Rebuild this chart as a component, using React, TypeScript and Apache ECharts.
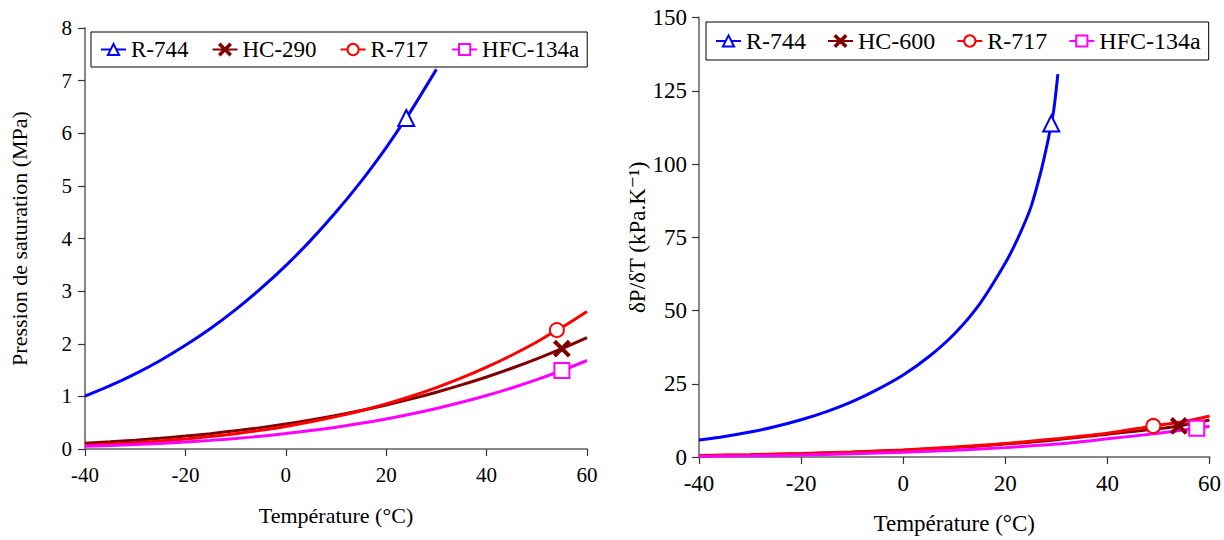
import React, { useEffect, useRef } from "react";
import * as echarts from "echarts";

// ---------- Left chart: saturation pressure (MPa) ----------
const r744TempsL = [-40, -35, -30, -25, -20, -15, -10, -5, 0, 5, 10, 15, 20, 24, 25, 30];
const r744PsatL = [1.005, 1.202, 1.428, 1.683, 1.97, 2.29, 2.649, 3.046, 3.485, 3.969, 4.502, 5.086, 5.729, 6.29, 6.434, 7.214];
const r744MarkL = 13;

const hc290Temps = [-40, -35, -30, -25, -20, -15, -10, -5, 0, 5, 10, 15, 20, 25, 30, 35, 40, 45, 50, 55, 60];
const hc290Psat = [0.111, 0.138, 0.168, 0.204, 0.245, 0.292, 0.345, 0.406, 0.474, 0.551, 0.636, 0.731, 0.836, 0.952, 1.079, 1.218, 1.369, 1.534, 1.713, 1.907, 2.116];
const hc290Mark = 19;

const r717TempsL = [-40, -35, -30, -25, -20, -15, -10, -5, 0, 5, 10, 15, 20, 25, 30, 35, 40, 45, 50, 54, 55, 60];
const r717PsatL = [0.0717, 0.0932, 0.1195, 0.1515, 0.19, 0.236, 0.291, 0.355, 0.429, 0.516, 0.615, 0.728, 0.857, 1.003, 1.167, 1.35, 1.555, 1.782, 2.033, 2.26, 2.31, 2.614];
const r717MarkL = 19;

const r134aTempsL = [-40, -35, -30, -25, -20, -15, -10, -5, 0, 5, 10, 15, 20, 25, 30, 35, 40, 45, 50, 55, 60];
const r134aPsatL = [0.0512, 0.0661, 0.0844, 0.1064, 0.1327, 0.1639, 0.2006, 0.2433, 0.2928, 0.3497, 0.4146, 0.4884, 0.5717, 0.6654, 0.7702, 0.887, 1.0166, 1.1599, 1.3179, 1.4915, 1.6818];
const r134aMarkL = 19;

// ---------- Right chart: dP/dT (kPa/K) ----------
const r744TempsR = [-40, -35, -30, -25, -20, -15, -10, -5, 0, 5, 10, 15, 20, 22.5, 25, 27, 28.3, 29, 29.5, 30.3];
const r744SlopeR = [5.8, 7.0, 8.5, 10.4, 12.7, 15.5, 18.9, 23.1, 28.0, 34.2, 42.0, 52.3, 66.2, 74.8, 85.2, 97.6, 107.5, 113.8, 118.5, 130.7];
const r744MarkR = 17;

const hc600Temps = [-40, -30, -20, -10, 0, 10, 20, 30, 40, 50, 54, 60];
const hc600Slope = [0.4, 0.7, 1.1, 1.6, 2.3, 3.2, 4.4, 5.9, 7.8, 9.6, 10.6, 12.6];
const hc600Mark = 10;

const r717TempsR = [-40, -30, -20, -10, 0, 10, 20, 30, 40, 49, 55, 60];
const r717SlopeR = [0.5, 0.8, 1.2, 1.7, 2.4, 3.4, 4.6, 6.2, 8.1, 10.6, 12.1, 14.0];
const r717MarkR = 9;

const r134aTempsR = [-40, -30, -20, -10, 0, 10, 20, 30, 40, 50, 57.5, 60];
const r134aSlopeR = [0.2, 0.4, 0.7, 1.1, 1.6, 2.3, 3.2, 4.4, 6.2, 8.1, 9.8, 10.5];
const r134aMarkR = 10;

const legendLeft = ["R-744", "HC-290", "R-717", "HFC-134a"];
const legendRight = ["R-744", "HC-600", "R-717", "HFC-134a"];

const xName = "Température (°C)";
const yNameLeft = "Pression de saturation (MPa)";
const yNameRight = "δP/δT (kPa.K⁻¹)";

const FONT = "Liberation Serif, Times New Roman, DejaVu Serif, serif";
const BLUE = "#0000FF";
const DARKRED = "#800000";
const RED = "#FF0000";
const MAGENTA = "#FF00FF";
const XSYM = "path://M0,1 L1,0 L5,4 L9,0 L10,1 L6,5 L10,9 L9,10 L5,6 L1,10 L0,9 L4,5 Z";

function buildData(xs: number[], ys: number[], mark: number, size: number) {
  return xs.map((x, i) => (i === mark ? { value: [x, ys[i]], symbolSize: size } : { value: [x, ys[i]] }));
}

function mkSeries(
  name: string,
  grid: number,
  xs: number[],
  ys: number[],
  mark: number,
  color: string,
  symbol: string,
  size: number,
  smooth: number
) {
  return {
    name,
    type: "line",
    xAxisIndex: grid,
    yAxisIndex: grid,
    data: buildData(xs, ys, mark, size),
    smooth,
    symbol,
    symbolSize: 0,
    showSymbol: true,
    lineStyle: { color, width: 3 },
    itemStyle: { color, borderColor: color, borderWidth: 2 },
    emphasis: { disabled: true },
    z: 2,
  };
}

function axisCommon() {
  return {
    axisLine: { show: true, onZero: false, lineStyle: { color: "#878787", width: 2 } },
    axisTick: { show: true, length: 7, lineStyle: { color: "#333", width: 1.2 } },
    splitLine: { show: false },
  };
}

export default function App() {
  const ref = useRef<HTMLDivElement>(null);
  useEffect(() => {
    if (!ref.current) return;
    const chart = echarts.init(ref.current, null, { renderer: "svg" });
    const option = {
      animation: false,
      backgroundColor: "#fff",
      textStyle: { fontFamily: FONT },
      grid: [
        { left: 85, top: 28, width: 502, height: 421 },
        { left: 699, top: 17.5, width: 511, height: 446 },
      ],
      legend: [
        {
          data: legendLeft,
          left: 91,
          top: 32,
          orient: "horizontal",
          padding: [6, 8, 6, 9],
          itemWidth: 25,
          itemHeight: 14,
          itemGap: 23,
          borderColor: "#000",
          borderWidth: 1,
          backgroundColor: "#fff",
          textStyle: { fontSize: 23, fontFamily: FONT, color: "#000" },
          selectedMode: false,
        },
        {
          data: legendRight,
          left: 706,
          top: 22,
          orient: "horizontal",
          padding: [7, 8, 7, 9],
          itemWidth: 25,
          itemHeight: 14,
          itemGap: 21,
          borderColor: "#000",
          borderWidth: 1,
          backgroundColor: "#fff",
          textStyle: { fontSize: 24, fontFamily: FONT, color: "#000" },
          selectedMode: false,
        },
      ],
      xAxis: [
        {
          ...axisCommon(),
          type: "value",
          gridIndex: 0,
          min: -40,
          max: 60,
          interval: 20,
          name: xName,
          nameLocation: "middle",
          nameGap: 55,
          nameTextStyle: { color: "#000", fontFamily: FONT, fontSize: 22 },
          axisLabel: { color: "#000", fontSize: 21, fontFamily: FONT, margin: 15 },
        },
        {
          ...axisCommon(),
          type: "value",
          gridIndex: 1,
          min: -40,
          max: 60,
          interval: 20,
          name: xName,
          nameLocation: "middle",
          nameGap: 55,
          nameTextStyle: { color: "#000", fontFamily: FONT, fontSize: 23 },
          axisLabel: { color: "#000", fontSize: 23, fontFamily: FONT, margin: 15 },
        },
      ],
      yAxis: [
        {
          ...axisCommon(),
          type: "value",
          gridIndex: 0,
          min: 0,
          max: 8,
          interval: 1,
          name: yNameLeft,
          nameLocation: "middle",
          nameRotate: 90,
          nameGap: 55,
          nameTextStyle: { color: "#000", fontFamily: FONT, fontSize: 22 },
          axisLabel: { color: "#000", fontSize: 21, fontFamily: FONT, margin: 13 },
        },
        {
          ...axisCommon(),
          type: "value",
          gridIndex: 1,
          min: 0,
          max: 150,
          interval: 25,
          name: yNameRight,
          nameLocation: "middle",
          nameRotate: 90,
          nameGap: 44,
          nameTextStyle: { color: "#000", fontFamily: FONT, fontSize: 23 },
          axisLabel: { color: "#000", fontSize: 23, fontFamily: FONT, margin: 12 },
        },
      ],
      series: [
        mkSeries("R-744", 0, r744TempsL, r744PsatL, r744MarkL, BLUE, "emptyTriangle", 16, 0.4),
        mkSeries("HC-290", 0, hc290Temps, hc290Psat, hc290Mark, DARKRED, XSYM, 15, 0.4),
        mkSeries("R-717", 0, r717TempsL, r717PsatL, r717MarkL, RED, "emptyCircle", 14, 0.4),
        mkSeries("HFC-134a", 0, r134aTempsL, r134aPsatL, r134aMarkL, MAGENTA, "emptyRect", 15, 0.4),
        mkSeries("R-744", 1, r744TempsR, r744SlopeR, r744MarkR, BLUE, "emptyTriangle", 16, 0.3),
        mkSeries("HC-600", 1, hc600Temps, hc600Slope, hc600Mark, DARKRED, XSYM, 15, 0.3),
        mkSeries("R-717", 1, r717TempsR, r717SlopeR, r717MarkR, RED, "emptyCircle", 14, 0.3),
        mkSeries("HFC-134a", 1, r134aTempsR, r134aSlopeR, r134aMarkR, MAGENTA, "emptyRect", 15, 0.3),
      ],
    };
    chart.setOption(option as any);
    return () => chart.dispose();
  }, []);
  return (
    <div
      ref={ref}
      style={{ position: "absolute", left: 0, top: 0, width: 1224, height: 540, background: "#fff" }}
    />
  );
}
